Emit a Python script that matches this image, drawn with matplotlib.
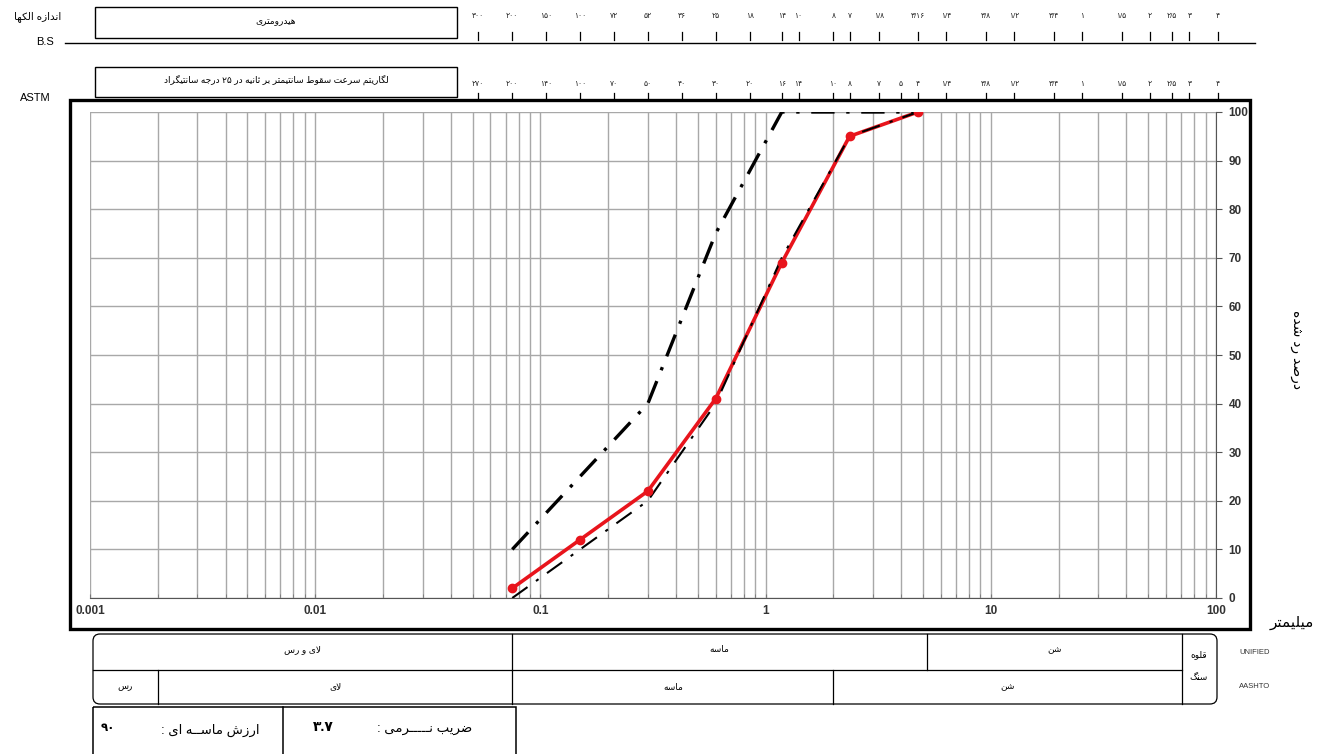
import re
import matplotlib
matplotlib.use("Agg")
import matplotlib.pyplot as plt
from matplotlib.patches import Rectangle, FancyBboxPatch
from matplotlib.transforms import blended_transform_factory

plt.rcParams['font.family'] = ['Liberation Sans', 'DejaVu Sans']

# داده‌ها
sieve_mm = [0.075, 0.15, 0.3, 0.6, 1.18, 2.36, 4.75]
passing = [2, 12, 22, 41, 69, 95, 100]
upper_lim = [10, 25, 40, 75, 100, 100, 100]
lower_lim = [0, 10, 20, 40, 70, 95, 100]

x_ticks = [0.001, 0.01, 0.1, 1, 10, 100]
x_tick_labels = ['0.001', '0.01', '0.1', '1', '10', '100']
y_ticks = [0, 10, 20, 30, 40, 50, 60, 70, 80, 90, 100]

bs_labels = ['۳۰۰', '۲۰۰', '۱۵۰', '۱۰۰', '۷۲', '۵۲', '۳۶', '۲۵', '۱۸', '۱۴', '۱۰', '۸', '۷',
             '۱/۸', '۳/۱۶', '۱/۴', '۳/۸', '۱/۲', '۳/۴', '۱', '۱/۵', '۲', '۲/۵', '۳', '۴']
bs_mm = [0.053, 0.075, 0.106, 0.15, 0.212, 0.3, 0.425, 0.6, 0.85, 1.18, 1.4, 2.0, 2.36,
         3.18, 4.76, 6.35, 9.5, 12.7, 19.0, 25.4, 38.1, 50.8, 63.5, 76.2, 101.6]
astm_labels = ['۲۷۰', '۲۰۰', '۱۴۰', '۱۰۰', '۷۰', '۵۰', '۴۰', '۳۰', '۲۰', '۱۶', '۱۴', '۱۰', '۸', '۷',
               '۵', '۴', '۱/۴', '۳/۸', '۱/۲', '۳/۴', '۱', '۱/۵', '۲', '۲/۵', '۳', '۴']
astm_mm = [0.053, 0.075, 0.106, 0.15, 0.212, 0.3, 0.425, 0.6, 0.85, 1.18, 1.4, 2.0, 2.36, 3.2,
           4.0, 4.75, 6.35, 9.5, 12.7, 19.0, 25.4, 38.1, 50.8, 63.5, 76.2, 101.6]

unified_bounds = [0.075, 5.2]
unified_names = ['لای و رس', 'ماسه', 'شن']
aashto_bounds = [0.002, 0.075, 2.0]
aashto_names = ['رس', 'لای', 'ماسه', 'شن']
gravel_limit = 75

# شکل‌دهی حروف فارسی (matplotlib متن راست‌به‌چپ را شکل نمی‌دهد)
FORMS = {
    'ا': ('\uFE8D', '\uFE8E', None, None),
    'ب': ('\uFE8F', '\uFE90', '\uFE91', '\uFE92'),
    'ت': ('\uFE95', '\uFE96', '\uFE97', '\uFE98'),
    'ث': ('\uFE99', '\uFE9A', '\uFE9B', '\uFE9C'),
    'ج': ('\uFE9D', '\uFE9E', '\uFE9F', '\uFEA0'),
    'د': ('\uFEA9', '\uFEAA', None, None),
    'ر': ('\uFEAD', '\uFEAE', None, None),
    'ز': ('\uFEAF', '\uFEB0', None, None),
    'س': ('\uFEB1', '\uFEB2', '\uFEB3', '\uFEB4'),
    'ش': ('\uFEB5', '\uFEB6', '\uFEB7', '\uFEB8'),
    'ص': ('\uFEB9', '\uFEBA', '\uFEBB', '\uFEBC'),
    'ض': ('\uFEBD', '\uFEBE', '\uFEBF', '\uFEC0'),
    'ط': ('\uFEC1', '\uFEC2', '\uFEC3', '\uFEC4'),
    'ع': ('\uFEC9', '\uFECA', '\uFECB', '\uFECC'),
    'ق': ('\uFED5', '\uFED6', '\uFED7', '\uFED8'),
    'ل': ('\uFEDD', '\uFEDE', '\uFEDF', '\uFEE0'),
    'م': ('\uFEE1', '\uFEE2', '\uFEE3', '\uFEE4'),
    'ن': ('\uFEE5', '\uFEE6', '\uFEE7', '\uFEE8'),
    'ه': ('\uFEE9', '\uFEEA', '\uFEEB', '\uFEEC'),
    'و': ('\uFEED', '\uFEEE', None, None),
    'ک': ('\uFB8E', '\uFB8F', '\uFB90', '\uFB91'),
    'گ': ('\uFB92', '\uFB93', '\uFB94', '\uFB95'),
    'ی': ('\uFBFC', '\uFBFD', '\uFBFE', '\uFBFF'),
}
LA = '\x01'
TATWEEL = 'ـ'


def joins_next(c):
    return c == TATWEEL or (c in FORMS and FORMS[c][2] is not None)


def fa(s):
    chars = list(s.replace('لا', LA))
    out = []
    for i, c in enumerate(chars):
        prev = chars[i - 1] if i > 0 else None
        nxt = chars[i + 1] if i + 1 < len(chars) else None
        jp = prev is not None and joins_next(prev)
        if c == LA:
            out.append('\uFEFC' if jp else '\uFEFB')
            continue
        if c not in FORMS:
            out.append(c)
            continue
        iso, fin, ini, med = FORMS[c]
        jn = ini is not None and nxt is not None and (nxt in FORMS or nxt in (TATWEEL, LA))
        if jp and jn:
            out.append(med)
        elif jp:
            out.append(fin)
        elif jn:
            out.append(ini)
        else:
            out.append(iso)
    vis = ''.join(out)[::-1]
    return re.sub(r'[۰-۹0-9./]+', lambda m: m.group(0)[::-1], vis)


W, H = 1319, 754
fig = plt.figure(figsize=(W / 100, H / 100), dpi=100)

ax = fig.add_axes([90 / W, 1 - 598 / H, (1216 - 90) / W, (598 - 112) / H])
ax.set_xscale('log')
ax.set_xlim(0.001, 100)
ax.set_ylim(0, 100)

ax.plot(sieve_mm, passing, color='#e8141c', lw=2.6, zorder=3)
ax.plot(sieve_mm, upper_lim, color='black', lw=2.4, dashes=(7, 3.5, 1, 3.5), zorder=4)
ax.plot(sieve_mm, lower_lim, color='black', lw=1.5, dashes=(9, 5, 1.5, 5), zorder=4)
ax.plot(sieve_mm, passing, 'o', color='#e8141c', ms=6, zorder=5)

ax.grid(True, which='both', axis='x', color='#a8a8a8', lw=1.0)
ax.grid(True, which='major', axis='y', color='#a8a8a8', lw=1.0)
ax.set_axisbelow(True)
for side in ['top', 'left']:
    ax.spines[side].set_visible(False)
ax.spines['bottom'].set_color('#555555')
ax.spines['right'].set_color('#555555')

ax.set_xticks(x_ticks)
ax.set_xticklabels(x_tick_labels, fontsize=8.5, fontweight='bold', color='#333333')
ax.tick_params(axis='x', which='both', direction='in', length=3, pad=5, color='#777777')
ax.yaxis.tick_right()
ax.set_yticks(y_ticks)
ax.set_yticklabels([str(v) for v in y_ticks], fontsize=8.5, fontweight='bold', color='#333333')
ax.tick_params(axis='y', direction='out', length=4, pad=5, color='#555555')

# لایه‌ی پیکسلی برای قاب‌ها و جدول
ov = fig.add_axes([0, 0, 1, 1])
ov.set_xlim(0, W)
ov.set_ylim(H, 0)
ov.axis('off')
ov.patch.set_visible(False)
tr = blended_transform_factory(ax.transData, ov.transData)

# قاب ضخیم نمودار
ov.add_patch(Rectangle((70, 100), 1250 - 70, 629 - 100, fill=False, ec='black', lw=2.4))

# مقیاس الک B.S
ov.plot([65, 1255], [43, 43], color='black', lw=1.0)
for lab, mm in zip(bs_labels, bs_mm):
    ov.plot([mm, mm], [32, 40], color='black', lw=0.9, transform=tr)
    ov.text(mm, 16, lab, transform=tr, ha='center', va='center', fontsize=5.5, color='#222222')
ov.add_patch(Rectangle((95, 7), 457 - 95, 38 - 7, fill=False, ec='black', lw=1.0))
ov.text(276, 22, fa('هیدرومتری'), ha='center', va='center', fontsize=6.5)
ov.text(38, 17, fa('اندازه الکها'), ha='center', va='center', fontsize=7.5)
ov.text(45, 42, 'B.S', ha='center', va='center', fontsize=8)

# مقیاس الک ASTM
for lab, mm in zip(astm_labels, astm_mm):
    ov.plot([mm, mm], [93, 100], color='black', lw=0.9, transform=tr)
    ov.text(mm, 85, lab, transform=tr, ha='center', va='center', fontsize=5.5, color='#222222')
ov.add_patch(Rectangle((95, 67), 457 - 95, 97 - 67, fill=False, ec='black', lw=1.0))
ov.text(276, 80, fa('لگاریتم سرعت سقوط سانتیمتر بر ثانیه در ۲۵ درجه سانتیگراد'),
        ha='center', va='center', fontsize=6.5)
ov.text(35, 98, 'ASTM', ha='center', va='center', fontsize=8)

# برچسب محورها
ov.text(1297, 350, fa('درصد رد شده'), rotation=-90, ha='center', va='center', fontsize=10)
ov.text(1292, 623, fa('میلیمتر'), ha='center', va='center', fontsize=11)

# جدول طبقه‌بندی
ov.add_patch(FancyBboxPatch((93, 634), 1217 - 93, 704 - 634,
                            boxstyle='round,pad=0,rounding_size=7', fill=False, ec='black', lw=0.9))
ov.plot([93, 1182], [670, 670], color='black', lw=0.9)
ov.plot([1182, 1182], [634, 704], color='black', lw=0.9)
for b in unified_bounds:
    ov.plot([b, b], [634, 670], color='black', lw=0.9, transform=tr)
for b in aashto_bounds:
    ov.plot([b, b], [670, 704], color='black', lw=0.9, transform=tr)

u_edges = [93] + [ax.transData.transform((b, 0))[0] for b in unified_bounds] + [1182]
a_edges = [93] + [ax.transData.transform((b, 0))[0] for b in aashto_bounds] + [1182]
fig.canvas.draw()
u_px = [93] + [ov.transData.inverted().transform(ax.transData.transform((b, 0)))[0]
               for b in unified_bounds] + [1182]
a_px = [93] + [ov.transData.inverted().transform(ax.transData.transform((b, 0)))[0]
               for b in aashto_bounds] + [1182]
for name, x0, x1 in zip(unified_names, u_px[:-1], u_px[1:]):
    ov.text((x0 + x1) / 2, 650, fa(name), ha='center', va='center', fontsize=6.5)
for name, x0, x1 in zip(aashto_names, a_px[:-1], a_px[1:]):
    ov.text((x0 + x1) / 2, 687, fa(name), ha='center', va='center', fontsize=6.5)
ov.text(1199, 655, fa('قلوه'), ha='center', va='center', fontsize=6.5)
ov.text(1199, 678, fa('سنگ'), ha='center', va='center', fontsize=6.5)
ov.text(1255, 652, 'UNIFIED', ha='center', va='center', fontsize=5.5, color='#333333')
ov.text(1255, 686, 'AASHTO', ha='center', va='center', fontsize=5.5, color='#333333')

# جعبه‌های پایین
ov.add_patch(Rectangle((93, 707), 516 - 93, 60, fill=False, ec='black', lw=1.1))
ov.plot([283, 283], [707, 760], color='black', lw=1.1)
ov.text(108, 728, '۹۰', ha='center', va='center', fontsize=8.5, fontweight='bold')
ov.text(210, 730, fa('ارزش ماســه ای :'), ha='center', va='center', fontsize=9.5)
ov.text(323, 727, '۳.۷', ha='center', va='center', fontsize=10, fontweight='bold')
ov.text(472, 729, fa('ضریب نـــــرمی :'), ha='right', va='center', fontsize=9.5)

fig.savefig('out.png', dpi=100)
